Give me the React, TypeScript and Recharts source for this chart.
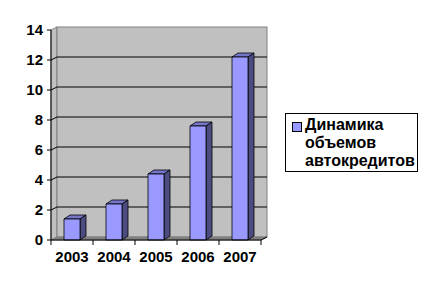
import { BarChart, Bar, XAxis, YAxis, CartesianGrid } from 'recharts';

const years = ['2003', '2004', '2005', '2006', '2007'];
const volumes = [1.4, 2.4, 4.4, 7.6, 12.2];
const yTicks = [0, 2, 4, 6, 8, 10, 12, 14];
const legendLines = ['Динамика', 'объемов', 'автокредитов'];

const data = years.map((year, i) => ({ year, value: volumes[i] }));

const W = 432;
const H = 288;
const PLOT = { left: 51, top: 30, right: 261, bottom: 240 };
const WALL_DX = 6;
const WALL_DY = 3;
const BAR_DX = 6;
const BAR_DY = 4;
const FONT = '"Liberation Sans", Arial, sans-serif';

function Bar3D(props: any) {
  const { x, y, width, height } = props;
  if (height == null || height <= 0) return null;
  return (
    <g stroke="#000" strokeWidth={0.8} strokeLinejoin="round">
      <polygon
        points={`${x},${y} ${x + BAR_DX},${y - BAR_DY} ${x + width + BAR_DX},${y - BAR_DY} ${x + width},${y}`}
        fill="#7676c8"
      />
      <polygon
        points={`${x + width},${y} ${x + width + BAR_DX},${y - BAR_DY} ${x + width + BAR_DX},${y + height - BAR_DY} ${x + width},${y + height}`}
        fill="#4c4c80"
      />
      <rect x={x} y={y} width={width} height={height} fill="#9999ff" />
    </g>
  );
}

function GridLine(props: any) {
  const { x1, x2, y1 } = props;
  if (y1 <= PLOT.top + 0.5 || y1 >= PLOT.bottom - 0.5) return <g />;
  return (
    <g stroke="#000" strokeWidth={1}>
      <line x1={x1} y1={y1} x2={x1 + WALL_DX} y2={y1 - WALL_DY} />
      <line x1={x1 + WALL_DX} y1={y1 - WALL_DY} x2={x2 + WALL_DX} y2={y1 - WALL_DY} />
    </g>
  );
}

function YearTick(props: any) {
  const { x, y, payload, index } = props;
  const band = (PLOT.right - PLOT.left) / years.length;
  const last = index === years.length - 1;
  return (
    <g>
      <line x1={x - band / 2} y1={y - 8} x2={x - band / 2} y2={y - 3} stroke="#000" />
      {last && <line x1={x + band / 2} y1={y - 8} x2={x + band / 2} y2={y - 3} stroke="#000" />}
      <text x={x} y={y + 14} textAnchor="middle" fontFamily={FONT} fontWeight="bold" fontSize={15} fill="#000">
        {payload.value}
      </text>
    </g>
  );
}

function LegendBox() {
  return (
    <div
      style={{
        position: 'absolute',
        left: 285,
        top: 113,
        width: 133,
        height: 59,
        border: '1px solid #000',
        background: '#fff',
        boxSizing: 'border-box',
        fontFamily: FONT,
        fontWeight: 'bold',
        fontSize: 16,
        lineHeight: '18px',
        padding: '2px 0 0 19px',
        textAlign: 'left',
        whiteSpace: 'nowrap',
      }}
    >
      <span
        style={{
          position: 'absolute',
          left: 6,
          top: 8,
          width: 8,
          height: 8,
          background: '#9999ff',
          border: '1px solid #000',
        }}
      />
      {legendLines.map((line) => (
        <div key={line}>{line}</div>
      ))}
    </div>
  );
}

export default function App() {
  const wallRight = PLOT.right + WALL_DX;
  const wallTop = PLOT.top - WALL_DY;
  const wallBottom = PLOT.bottom - WALL_DY;
  return (
    <div style={{ position: 'absolute', left: 0, top: 0, width: W, height: H, background: '#fff' }}>
      <svg width={W} height={H} style={{ position: 'absolute', left: 0, top: 0 }}>
        <polygon
          points={`${PLOT.left},${PLOT.top} ${PLOT.left + WALL_DX},${wallTop} ${PLOT.left + WALL_DX},${wallBottom} ${PLOT.left},${PLOT.bottom}`}
          fill="#c0c0c0"
          stroke="#808080"
        />
        <rect
          x={PLOT.left + WALL_DX}
          y={wallTop}
          width={wallRight - PLOT.left - WALL_DX}
          height={wallBottom - wallTop}
          fill="#c0c0c0"
          stroke="#808080"
        />
        <polygon
          points={`${PLOT.left},${PLOT.bottom} ${PLOT.right},${PLOT.bottom} ${wallRight},${wallBottom} ${PLOT.left + WALL_DX},${wallBottom}`}
          fill="#808080"
          stroke="#808080"
        />
        <line x1={PLOT.right} y1={PLOT.bottom} x2={wallRight} y2={wallBottom} stroke="#000" />
      </svg>
      <div style={{ position: 'absolute', left: 0, top: 0 }}>
        <BarChart
          width={W}
          height={H}
          data={data}
          margin={{ top: PLOT.top, right: W - PLOT.right, left: 0, bottom: H - PLOT.bottom - 30 }}
          barCategoryGap={0}
        >
          <CartesianGrid vertical={false} horizontal={GridLine as any} fill="none" />
          <XAxis
            dataKey="year"
            height={30}
            axisLine={{ stroke: '#000' }}
            tickLine={false}
            interval={0}
            tick={YearTick}
          />
          <YAxis
            width={PLOT.left}
            domain={[0, 14]}
            ticks={yTicks}
            interval={0}
            axisLine={{ stroke: '#000' }}
            tickLine={{ stroke: '#000' }}
            tickSize={4}
            tickMargin={4}
            tick={{ fill: '#000', fontFamily: FONT, fontWeight: 'bold', fontSize: 15 }}
          />
          <Bar
            dataKey="value"
            name={legendLines.join(' ')}
            barSize={16}
            shape={Bar3D}
            isAnimationActive={false}
          />
        </BarChart>
      </div>
      <LegendBox />
    </div>
  );
}
